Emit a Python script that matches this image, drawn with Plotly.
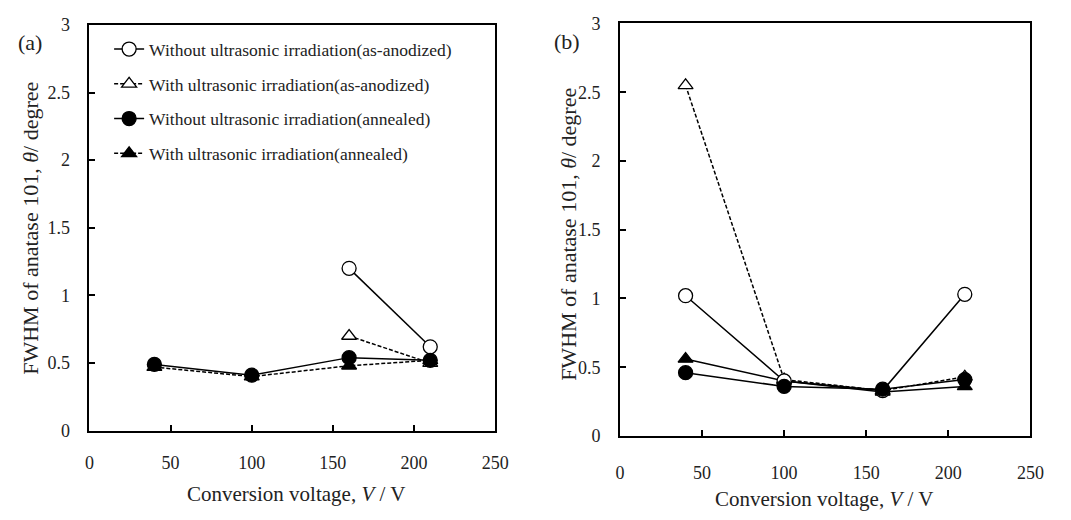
import plotly.graph_objects as go

voltage = [40, 100, 160, 210]

# Panel (a)
a_wo_asanod = [None, None, 1.20, 0.62]
a_w_asanod = [None, None, 0.70, 0.50]
a_wo_anneal = [0.49, 0.41, 0.54, 0.52]
a_w_anneal = [0.47, 0.40, 0.48, 0.52]

# Panel (b)
b_wo_asanod = [1.02, 0.40, 0.33, 1.03]
b_w_asanod = [2.55, 0.41, 0.33, 0.43]
b_wo_anneal = [0.46, 0.36, 0.34, 0.41]
b_w_anneal = [0.56, 0.40, 0.32, 0.36]

names = [
    "Without ultrasonic irradiation(as-anodized)",
    "With ultrasonic irradiation(as-anodized)",
    "Without ultrasonic irradiation(annealed)",
    "With ultrasonic irradiation(annealed)",
]

FONT = "Liberation Serif, Times New Roman, serif"
W, H = 1071, 520

fig = go.Figure()

def add(x, y, name, rank, symbol, fill, dash, xa, ya, show):
    fig.add_trace(go.Scatter(
        x=x, y=y, mode="lines+markers", name=name,
        legendgroup=name, legendrank=rank, showlegend=show,
        line=dict(color="black", width=1.5, dash=dash),
        marker=dict(symbol=symbol, size=14 if symbol == "circle" else 13,
                    color=fill, line=dict(color="black", width=1.3)),
        xaxis=xa, yaxis=ya, cliponaxis=False,
    ))

# draw order: triangles first, circles on top
add(voltage, a_w_asanod, names[1], 2, "triangle-up", "white", "4px,2px", "x", "y", True)
add(voltage, a_w_anneal, names[3], 4, "triangle-up", "black", "4px,2px", "x", "y", True)
add(voltage, a_wo_asanod, names[0], 1, "circle", "white", "solid", "x", "y", True)
add(voltage, a_wo_anneal, names[2], 3, "circle", "black", "solid", "x", "y", True)

add(voltage, b_w_asanod, names[1], 2, "triangle-up", "white", "4px,2px", "x2", "y2", False)
add(voltage, b_w_anneal, names[3], 4, "triangle-up", "black", "solid", "x2", "y2", False)
add(voltage, b_wo_asanod, names[0], 1, "circle", "white", "solid", "x2", "y2", False)
add(voltage, b_wo_anneal, names[2], 3, "circle", "black", "solid", "x2", "y2", False)

def px_x(p):
    return p / W

def px_y(p):
    return 1 - p / H

axis_common = dict(
    showline=True, linecolor="black", linewidth=1.5, mirror=True,
    ticks="inside", ticklen=6, tickwidth=1.5, tickcolor="black",
    showgrid=False, zeroline=False,
    tickfont=dict(family=FONT, size=18, color="#222"),
)

fig.update_layout(
    width=W, height=H,
    margin=dict(l=0, r=0, t=0, b=0),
    paper_bgcolor="white", plot_bgcolor="white",
    showlegend=True,
    xaxis=dict(domain=[px_x(86), px_x(499)], range=[0, 250], dtick=50,
               anchor="y", ticklabelstandoff=15, **axis_common),
    yaxis=dict(domain=[px_y(437.5), px_y(15.5)], range=[0, 3], dtick=0.5,
               anchor="x", ticklabelstandoff=14, **axis_common),
    xaxis2=dict(domain=[px_x(626), px_x(1044)], range=[0, 250], dtick=50,
                anchor="y2", ticklabelstandoff=20, **axis_common),
    yaxis2=dict(domain=[px_y(443), px_y(14)], range=[0, 3], dtick=0.5,
                anchor="x2", ticklabelstandoff=14, **axis_common),
    legend=dict(
        x=px_x(106), y=px_y(22), xanchor="left", yanchor="top",
        traceorder="grouped", tracegroupgap=9,
        bgcolor="rgba(0,0,0,0)",
        font=dict(family=FONT, size=17.5, color="#222"),
        itemsizing="trace",
    ),
)

ytitle = "FWHM of anatase 101, <i>θ</i>/ degree"
xtitle = "Conversion voltage, <i>V</i> / V"
ann = [
    dict(text="(a)", x=px_x(25), y=px_y(34), xanchor="center", yanchor="middle", font_size=22),
    dict(text="(b)", x=px_x(572), y=px_y(33), xanchor="center", yanchor="middle", font_size=22),
    dict(text=ytitle, x=px_x(26), y=px_y(227), textangle=-90, xanchor="center", yanchor="middle", font_size=22),
    dict(text=ytitle, x=px_x(573), y=px_y(233), textangle=-90, xanchor="center", yanchor="middle", font_size=22),
    dict(text=xtitle, x=px_x(296), y=px_y(503), xanchor="center", yanchor="middle", font_size=21),
    dict(text=xtitle, x=px_x(834), y=px_y(509), xanchor="center", yanchor="middle", font_size=21),
]
for a in ann:
    fig.add_annotation(xref="paper", yref="paper", showarrow=False,
                       font=dict(family=FONT, size=a.pop("font_size"), color="#222"), **a)

fig.write_html("out.html")
